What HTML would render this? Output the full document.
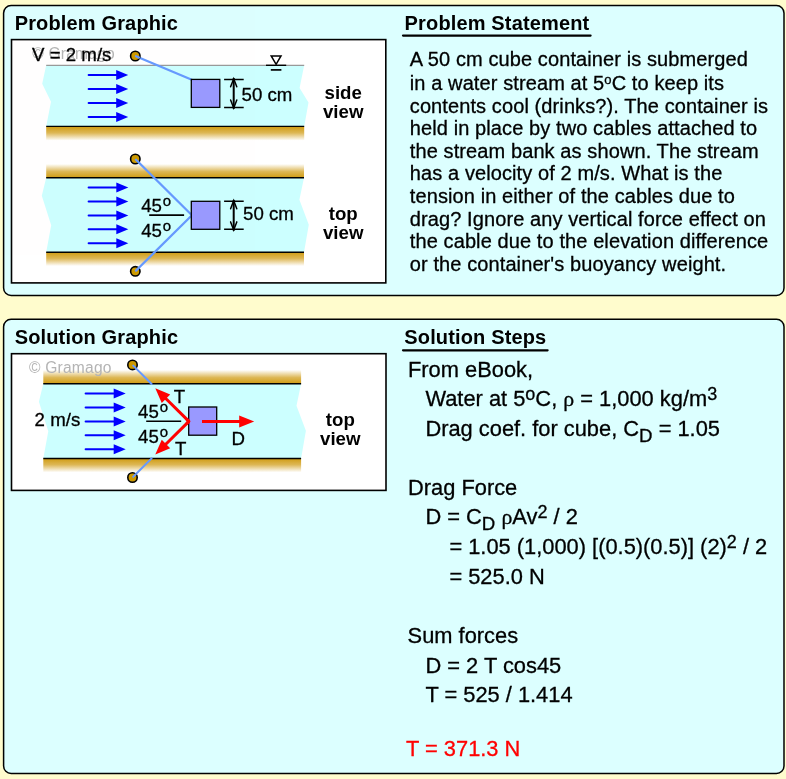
<!DOCTYPE html>
<html lang="en"><head><meta charset="utf-8"><title>Drag on submerged cube container</title>
<style>
html,body{margin:0;padding:0;background:#fffccd;}
body{width:786px;height:779px;overflow:hidden;position:relative;font-family:"Liberation Sans",sans-serif;}
svg{position:absolute;left:0;top:0;display:block;will-change:transform;opacity:0.999}
text{font-family:"Liberation Sans",sans-serif;}
.t{font-size:20px;fill:#000;stroke:#000;stroke-width:0.3px;letter-spacing:0.1px}
.s{font-size:21.85px;fill:#000;stroke:#000;stroke-width:0.3px}
.h{font-size:20px;font-weight:bold;fill:#000;letter-spacing:0.15px}
.g{font-size:18.67px;fill:#000;stroke:#000;stroke-width:0.3px}
.gb{font-size:18.67px;font-weight:bold;fill:#000;text-anchor:middle}
.wm{font-size:15.6px;fill:#b4b4b4;letter-spacing:0.2px}
.rho{font-family:"Liberation Serif",serif}
</style></head><body>
<svg width="786" height="779" viewBox="0 0 786 779">
<defs>
<linearGradient id="bankDown" x1="0" y1="0" x2="0" y2="1"><stop offset="0" stop-color="#d09c12"/><stop offset="0.45" stop-color="#ddb755"/><stop offset="1" stop-color="#ffffff"/></linearGradient>
<linearGradient id="bankUp" x1="0" y1="1" x2="0" y2="0"><stop offset="0" stop-color="#d09c12"/><stop offset="0.45" stop-color="#ddb755"/><stop offset="1" stop-color="#ffffff"/></linearGradient>
</defs>
<rect width="786" height="779" fill="#fffccd"/>

<rect x="3.6" y="5.5" width="780.4" height="289.9" rx="7.5" fill="#dcffff" stroke="#000" stroke-width="1.5"/>
<rect x="11.5" y="39.6" width="374.3" height="243.3" fill="#fff" stroke="#000" stroke-width="1.6"/>
<text class="h" x="14.7" y="30.3">Problem Graphic</text>
<text class="h" x="404.6" y="30.3">Problem Statement</text>
<path d="M403 35.6H590.6" stroke="#000" stroke-width="2.2" stroke-linecap="round"/>
<path d="M46.2 65.3L42.2 83.8L51.0 101.8L46.2 126.6H304.2L308.5 102.6L299.59999999999997 88.0L304.2 65.3Z" fill="#ccffff"/>
<rect x="46.2" y="126.6" width="258.0" height="14" fill="url(#bankDown)"/>
<path d="M46.2 65.3H304.2" stroke="#999" stroke-width="1.2"/>
<path d="M46.2 126.39999999999999H304.2" stroke="#000" stroke-width="1.4"/>
<path d="M88.6 75.1H117.19999999999999" stroke="#0000ff" stroke-width="2" fill="none" stroke-linecap="round"/><path d="M128.2 75.1L116.19999999999999 70.1V80.1Z" fill="#0000ff"/>
<path d="M88.6 89H117.19999999999999" stroke="#0000ff" stroke-width="2" fill="none" stroke-linecap="round"/><path d="M128.2 89L116.19999999999999 84V94Z" fill="#0000ff"/>
<path d="M88.6 103H117.19999999999999" stroke="#0000ff" stroke-width="2" fill="none" stroke-linecap="round"/><path d="M128.2 103L116.19999999999999 98V108Z" fill="#0000ff"/>
<path d="M88.6 117H117.19999999999999" stroke="#0000ff" stroke-width="2" fill="none" stroke-linecap="round"/><path d="M128.2 117L116.19999999999999 112V122Z" fill="#0000ff"/>
<path d="M135.3 56L191.8 79.8" stroke="#6699ff" stroke-width="2.3" stroke-linecap="round"/>
<circle cx="135.3" cy="56" r="4.7" fill="#cc9900" stroke="#000" stroke-width="1.6"/>
<path d="M136 56.3L139 57.6" stroke="#6699ff" stroke-width="2.3" stroke-linecap="round"/>
<rect x="191.3" y="79.4" width="28.5" height="28" fill="#9999ff" stroke="#000" stroke-width="1.3"/>
<path d="M224.1 79.4H243.7M224.1 107.4H243.7" stroke="#000" stroke-width="1.5" fill="none"/><path d="M233.7 78.0V108.80000000000001" stroke="#000" stroke-width="2" fill="none"/><path d="M230.6 86.80000000000001L233.7 78.80000000000001L236.79999999999998 86.80000000000001M230.6 100.0L233.7 108.0L236.79999999999998 100.0" stroke="#000" stroke-width="1.5" fill="none" stroke-linecap="round" stroke-linejoin="miter"/>
<text class="g" x="241.6" y="100.9">50 cm</text>
<path d="M271.2 55.9H281L276.1 64.3Z" fill="#fff" stroke="#000" stroke-width="1.5"/>
<path d="M266 65.3H286.2" stroke="#000" stroke-width="1.4"/><path d="M270.8 69.9H281.4" stroke="#000" stroke-width="1.7"/>
<text class="wm" x="32.2" y="59.2">© Gramago</text>
<text class="g" x="32.1" y="60.7">V = 2 m/s</text>
<text class="gb" x="343.2" y="98.8">side</text><text class="gb" x="343.2" y="117.5">view</text>
<path d="M46.2 177.8L41.800000000000004 195.8L51.2 225.3L46.2 252.2H304.0L308.8 224.8L299.4 199.8L304.0 177.8Z" fill="#ccffff"/>
<rect x="46.2" y="164.0" width="257.8" height="13.8" fill="url(#bankUp)"/>
<rect x="46.2" y="252.2" width="257.8" height="13.8" fill="url(#bankDown)"/>
<path d="M46.2 177.8H304.0M46.2 252.2H304.0" stroke="#000" stroke-width="1.4"/>
<path d="M88.6 187.6H117.30000000000001" stroke="#0000ff" stroke-width="2" fill="none" stroke-linecap="round"/><path d="M128.3 187.6L116.30000000000001 182.6V192.6Z" fill="#0000ff"/>
<path d="M88.6 201.5H117.30000000000001" stroke="#0000ff" stroke-width="2" fill="none" stroke-linecap="round"/><path d="M128.3 201.5L116.30000000000001 196.5V206.5Z" fill="#0000ff"/>
<path d="M88.6 215.4H117.30000000000001" stroke="#0000ff" stroke-width="2" fill="none" stroke-linecap="round"/><path d="M128.3 215.4L116.30000000000001 210.4V220.4Z" fill="#0000ff"/>
<path d="M88.6 229.3H117.30000000000001" stroke="#0000ff" stroke-width="2" fill="none" stroke-linecap="round"/><path d="M128.3 229.3L116.30000000000001 224.3V234.3Z" fill="#0000ff"/>
<path d="M88.6 243.2H117.30000000000001" stroke="#0000ff" stroke-width="2" fill="none" stroke-linecap="round"/><path d="M128.3 243.2L116.30000000000001 238.2V248.2Z" fill="#0000ff"/>
<path d="M135.3 159L191.9 215.3L135.3 271.3" stroke="#6699ff" stroke-width="2.3" stroke-linejoin="round" stroke-linecap="round" fill="none"/>
<circle cx="135.3" cy="159" r="4.7" fill="#cc9900" stroke="#000" stroke-width="1.6"/>
<circle cx="135.3" cy="271.3" r="4.7" fill="#cc9900" stroke="#000" stroke-width="1.6"/>
<path d="M136 159.7L139 162.7M136 270.6L139 267.6" stroke="#6699ff" stroke-width="2.3" stroke-linecap="round"/>
<rect x="191.3" y="201.3" width="28.5" height="28" fill="#9999ff" stroke="#000" stroke-width="1.3"/>
<path d="M149.2 215.1H184.1" stroke="#000" stroke-width="1.6"/>
<text class="g" x="141.2" y="212.2">45<tspan dx="0.8" dy="-6" font-size="15">o</tspan></text>
<text class="g" x="141.2" y="237.2">45<tspan dx="0.8" dy="-6" font-size="15">o</tspan></text>
<path d="M224.1 201.3H243.7M224.1 229.3H243.7" stroke="#000" stroke-width="1.5" fill="none"/><path d="M233.7 199.9V230.70000000000002" stroke="#000" stroke-width="2" fill="none"/><path d="M230.6 208.70000000000002L233.7 200.70000000000002L236.79999999999998 208.70000000000002M230.6 221.9L233.7 229.9L236.79999999999998 221.9" stroke="#000" stroke-width="1.5" fill="none" stroke-linecap="round" stroke-linejoin="miter"/>
<text class="g" x="243" y="220.2">50 cm</text>
<text class="gb" x="343.2" y="220.2">top</text><text class="gb" x="343.2" y="238.5">view</text>
<text class="t" x="409.8" y="65.7">A 50 cm cube container is submerged</text>
<text class="t" x="409.8" y="89.9">in a water stream at 5<tspan dy="-6.4" font-size="13">o</tspan><tspan dy="6.4">C to keep its</tspan></text>
<text class="t" x="409.8" y="112.5">contents cool (drinks?). The container is</text>
<text class="t" x="409.8" y="135.1">held in place by two cables attached to</text>
<text class="t" x="409.8" y="157.7">the stream bank as shown. The stream</text>
<text class="t" x="409.8" y="180.3">has a velocity of 2 m/s. What is the</text>
<text class="t" x="409.8" y="202.9">tension in either of the cables due to</text>
<text class="t" x="409.8" y="225.5">drag? Ignore any vertical force effect on</text>
<text class="t" x="409.8" y="248.1">the cable due to the elevation difference</text>
<text class="t" x="409.8" y="270.7">or the container's buoyancy weight.</text>
<rect x="3.6" y="319.3" width="780.4" height="454.2" rx="7.5" fill="#dcffff" stroke="#000" stroke-width="1.5"/>
<rect x="11.5" y="353.7" width="374.5" height="136.7" fill="#fff" stroke="#000" stroke-width="1.6"/>
<text class="h" x="14.7" y="343.6">Solution Graphic</text>
<text class="h" x="404.3" y="343.6">Solution Steps</text>
<path d="M403 350.3H547.6" stroke="#000" stroke-width="2.2" stroke-linecap="round"/>
<path d="M43.300000000000004 383.8L38.900000000000006 401.8L48.300000000000004 431.3L43.300000000000004 458.5H301.1L305.90000000000003 430.8L296.5 405.8L301.1 383.8Z" fill="#ccffff"/>
<rect x="43.300000000000004" y="370.0" width="257.8" height="13.8" fill="url(#bankUp)"/>
<rect x="43.300000000000004" y="458.5" width="257.8" height="13.8" fill="url(#bankDown)"/>
<path d="M43.300000000000004 383.8H301.1M43.300000000000004 458.5H301.1" stroke="#000" stroke-width="1.4"/>
<text class="wm" x="29" y="372.5">© Gramago</text>
<path d="M85.6 393.6H114.7" stroke="#0000ff" stroke-width="2" fill="none" stroke-linecap="round"/><path d="M125.7 393.6L113.7 388.6V398.6Z" fill="#0000ff"/>
<path d="M85.6 407.5H114.7" stroke="#0000ff" stroke-width="2" fill="none" stroke-linecap="round"/><path d="M125.7 407.5L113.7 402.5V412.5Z" fill="#0000ff"/>
<path d="M85.6 421.4H114.7" stroke="#0000ff" stroke-width="2" fill="none" stroke-linecap="round"/><path d="M125.7 421.4L113.7 416.4V426.4Z" fill="#0000ff"/>
<path d="M85.6 435.3H114.7" stroke="#0000ff" stroke-width="2" fill="none" stroke-linecap="round"/><path d="M125.7 435.3L113.7 430.3V440.3Z" fill="#0000ff"/>
<path d="M85.6 449.2H114.7" stroke="#0000ff" stroke-width="2" fill="none" stroke-linecap="round"/><path d="M125.7 449.2L113.7 444.2V454.2Z" fill="#0000ff"/>
<path d="M132.5 364.9L151.6 384M132.5 477.5L151.6 458.4" stroke="#6699ff" stroke-width="2" stroke-linecap="round"/>
<circle cx="132.5" cy="364.9" r="4.7" fill="#cc9900" stroke="#000" stroke-width="1.6"/>
<circle cx="132.5" cy="477.5" r="4.7" fill="#cc9900" stroke="#000" stroke-width="1.6"/>
<path d="M133.2 365.6L136 368.4M133.2 476.8L136 474" stroke="#6699ff" stroke-width="2" stroke-linecap="round"/>
<rect x="188.7" y="407" width="28" height="28.2" fill="#9999ff" stroke="#000" stroke-width="1.3"/>
<path d="M146.2 421.3H181.2" stroke="#000" stroke-width="1.6"/>
<text class="g" x="138.1" y="417.7">45<tspan dx="0.8" dy="-6" font-size="15">o</tspan></text>
<text class="g" x="138.1" y="442.9">45<tspan dx="0.8" dy="-6" font-size="15">o</tspan></text>
<path d="M188.90 421.40L165.26 398.04" stroke="#ff0000" stroke-width="3" fill="none"/><path d="M155.30 388.20L170.19 394.47L161.75 403.01Z" fill="#ff0000"/>
<path d="M188.90 421.40L165.26 444.76" stroke="#ff0000" stroke-width="3" fill="none"/><path d="M155.30 454.60L161.75 439.79L170.19 448.33Z" fill="#ff0000"/>
<path d="M188.9 421.4L187 419.5M188.9 421.4L187 423.3" stroke="#ff0000" stroke-width="3" stroke-linecap="round"/>
<path d="M202.00 421.50L240.20 421.50" stroke="#ff0000" stroke-width="3" fill="none"/><path d="M254.20 421.50L239.20 427.50L239.20 415.50Z" fill="#ff0000"/>
<text class="g" x="173.8" y="403">T</text>
<text class="g" x="175.1" y="455.3">T</text>
<text class="g" x="231.4" y="444.8">D</text>
<text class="g" x="34.6" y="426.3">2 m/s</text>
<text class="gb" x="340.3" y="426.3">top</text><text class="gb" x="340.3" y="444.8">view</text>
<text class="s" x="408.0" y="376.5">From eBook,</text>
<text class="s" x="425.4" y="406.2">Water at 5<tspan dy="-6" font-size="18">o</tspan><tspan dy="6">C, </tspan><tspan class="rho">ρ</tspan> = 1,000 kg/m<tspan dy="-6.2" font-size="18">3</tspan></text>
<text class="s" x="425.4" y="435.7">Drag coef. for cube, C<tspan dy="6" font-size="18.67">D</tspan><tspan dy="-6"> = 1.05</tspan></text>
<text class="s" x="408.0" y="494.9">Drag Force</text>
<text class="s" x="425.4" y="524.3">D = C<tspan dy="6" font-size="18.67">D</tspan><tspan dy="-6"> </tspan><tspan class="rho">ρ</tspan>Av<tspan dy="-6.2" font-size="18">2</tspan><tspan dy="6.2"> / 2</tspan></text>
<text class="s" x="449.4" y="554.3">= 1.05 (1,000) [(0.5)(0.5)] (2)<tspan dy="-6.2" font-size="18">2</tspan><tspan dy="6.2"> / 2</tspan></text>
<text class="s" x="449.4" y="584.0">= 525.0 N</text>
<text class="s" x="407.6" y="643.0">Sum forces</text>
<text class="s" x="425.4" y="672.6">D = 2 T cos45</text>
<text class="s" x="425.4" y="702.3">T = 525 / 1.414</text>
<text class="s" x="406" y="755.8" style="fill:#ff0000;stroke:#ff0000">T = 371.3 N</text>
</svg>
</body></html>
